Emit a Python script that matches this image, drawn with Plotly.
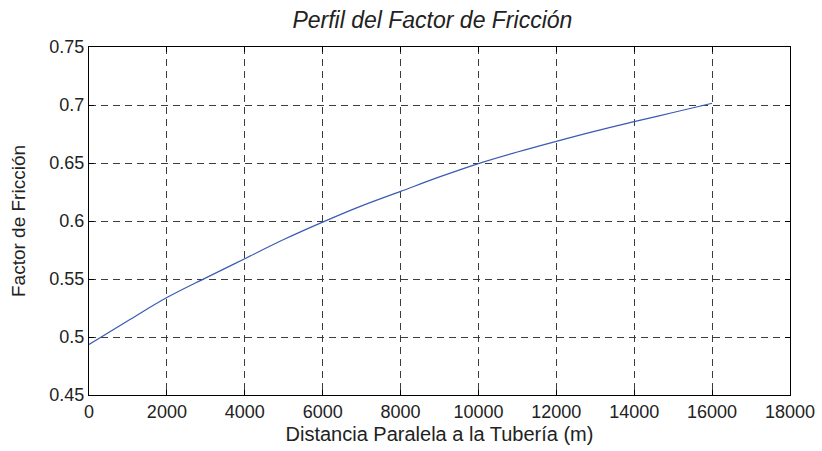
import plotly.graph_objects as go

# Distance along the pipe (m) and the friction factor profile
distancia = [0, 1000, 2000, 3000, 4000, 5000, 6000, 7000, 8000,
             9000, 10000, 11000, 12000, 13000, 14000, 15000, 16000]
factor = [0.4935, 0.514, 0.534, 0.551, 0.5675, 0.584, 0.599, 0.613, 0.6255,
          0.638, 0.6495, 0.6595, 0.6687, 0.6775, 0.6856, 0.6935, 0.7015]

x_ticks = [0, 2000, 4000, 6000, 8000, 10000, 12000, 14000, 16000, 18000]
x_tick_text = ["0", "2000", "4000", "6000", "8000", "10000", "12000", "14000", "16000", "18000"]
y_ticks = [0.45, 0.5, 0.55, 0.6, 0.65, 0.7, 0.75]
y_tick_text = ["0.45", "0.5", "0.55", "0.6", "0.65", "0.7", "0.75"]

FONT = "Liberation Sans, Arial, sans-serif"
TEXT = "#222222"

fig = go.Figure()
fig.add_trace(go.Scatter(
    x=distancia, y=factor, mode="lines",
    line=dict(color="#3a5ab4", width=1.2),
    line_shape="spline",
    showlegend=False,
))

axis_common = dict(
    showline=True, linecolor="black", linewidth=1.3, mirror="ticks",
    ticks="inside", ticklen=5, tickcolor="black",
    showgrid=True, gridcolor="#3c3c3c", gridwidth=1, griddash="7px,5px",
    zeroline=False,
    tickfont=dict(family=FONT, size=18, color=TEXT),
)

fig.update_layout(
    width=822, height=451,
    margin=dict(l=89, r=32, t=47, b=56, autoexpand=False),
    paper_bgcolor="white", plot_bgcolor="white",
    title=dict(
        text="<i>Perfil del Factor de Fricción</i>",
        x=0.526, xanchor="center", y=0.955, yanchor="middle",
        font=dict(family=FONT, size=23, color=TEXT),
    ),
    xaxis=dict(
        range=[0, 18000], tickvals=x_ticks, ticktext=x_tick_text,
        title=dict(text="Distancia Paralela a la Tubería (m)",
                   font=dict(family=FONT, size=20, color=TEXT), standoff=6),
        **axis_common,
    ),
    yaxis=dict(
        range=[0.45, 0.75], tickvals=y_ticks, ticktext=y_tick_text,
        title=dict(text="Factor de Fricción",
                   font=dict(family=FONT, size=19, color=TEXT), standoff=18),
        **axis_common,
    ),
)

fig.write_html("out.html")
